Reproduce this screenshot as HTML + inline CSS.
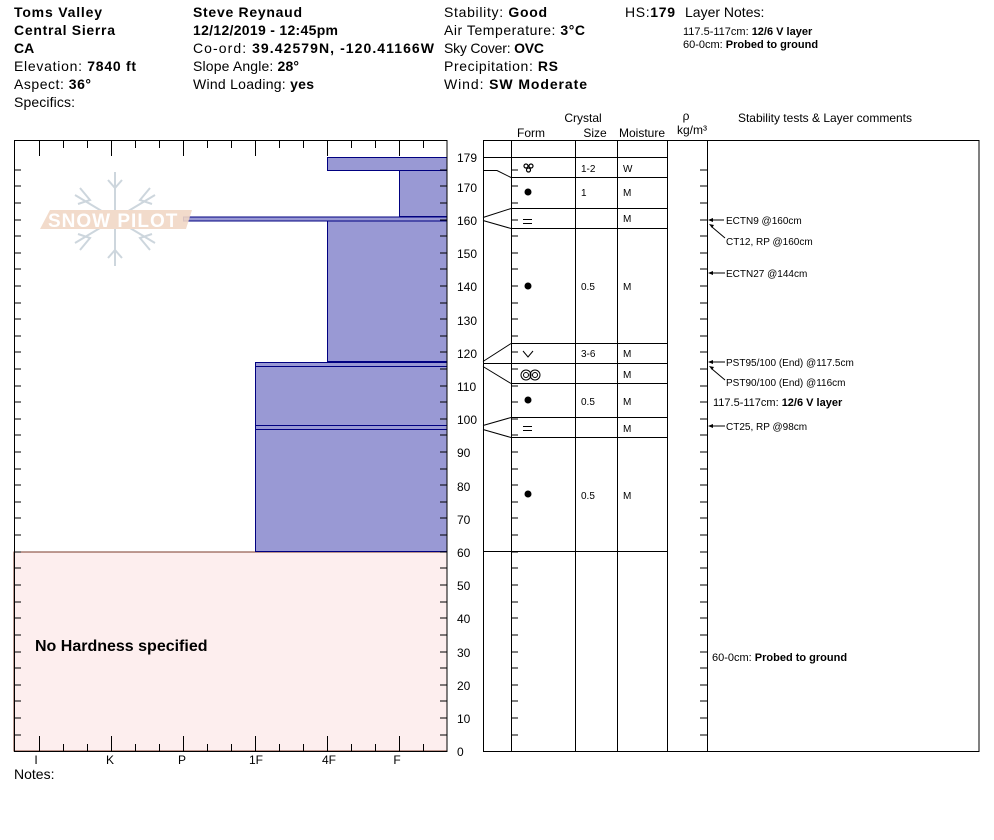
<!DOCTYPE html>
<html><head><meta charset="utf-8"><style>
body{margin:0;background:#fff;}
svg{display:block;font-family:"Liberation Sans",sans-serif;}
</style></head><body>
<svg width="994" height="840" viewBox="0 0 994 840" xmlns="http://www.w3.org/2000/svg">
<g font-size="14" fill="#000" lengthAdjust="spacing">
<text x="14" y="17" font-weight="bold" textLength="88">Toms Valley</text>
<text x="14" y="35" font-weight="bold" textLength="101">Central Sierra</text>
<text x="14" y="53" font-weight="bold">CA</text>
<text x="14" y="71" textLength="122">Elevation: <tspan font-weight="bold">7840 ft</tspan></text>
<text x="14" y="89" textLength="77">Aspect: <tspan font-weight="bold">36°</tspan></text>
<text x="14" y="107" textLength="61">Specifics:</text>
<text x="193" y="17" font-weight="bold" textLength="109">Steve Reynaud</text>
<text x="193" y="35" font-weight="bold" textLength="145">12/12/2019 - 12:45pm</text>
<text x="193" y="53" textLength="241">Co-ord: <tspan font-weight="bold">39.42579N, -120.41166W</tspan></text>
<text x="193" y="71" textLength="106">Slope Angle: <tspan font-weight="bold">28°</tspan></text>
<text x="193" y="89" textLength="121">Wind Loading: <tspan font-weight="bold">yes</tspan></text>
<text x="444" y="17" textLength="103">Stability: <tspan font-weight="bold">Good</tspan></text>
<text x="444" y="35" textLength="141">Air Temperature: <tspan font-weight="bold">3°C</tspan></text>
<text x="444" y="53" textLength="100">Sky Cover: <tspan font-weight="bold">OVC</tspan></text>
<text x="444" y="71" textLength="114">Precipitation: <tspan font-weight="bold">RS</tspan></text>
<text x="444" y="89" textLength="143">Wind:  <tspan font-weight="bold">SW Moderate</tspan></text>
<text x="625" y="17" textLength="50">HS:<tspan font-weight="bold">179</tspan></text>
<text x="685" y="17">Layer Notes:</text>
</g>
<g font-size="11">
<text x="683" y="35">117.5-117cm: <tspan font-weight="bold">12/6 V layer</tspan></text>
<text x="683" y="48">60-0cm: <tspan font-weight="bold">Probed to ground</tspan></text>
</g>
<g font-size="12">
<text x="583" y="122" text-anchor="middle">Crystal</text>
<text x="531" y="137" text-anchor="middle">Form</text>
<text x="595" y="137" text-anchor="middle">Size</text>
<text x="642" y="137" text-anchor="middle">Moisture</text>
<text x="686" y="120" text-anchor="middle">ρ</text>
<text x="692" y="134" text-anchor="middle">kg/m³</text>
<text x="825" y="122" text-anchor="middle">Stability tests &amp; Layer comments</text>
</g>
<rect x="14" y="552" width="433" height="199" fill="#fdeeee" stroke="#7a3a2a" stroke-width="1"/>
<text x="35" y="651" font-size="16" font-weight="bold">No Hardness specified</text>
<g fill="#9999d4" stroke="#000080" stroke-width="1">
<rect x="327.5" y="157.5" width="119.5" height="13"/>
<rect x="399.5" y="170.5" width="47.5" height="46"/>
<rect x="183.5" y="217" width="263.5" height="4"/>
<rect x="327.5" y="221" width="119.5" height="141"/>
<rect x="255.5" y="362.5" width="191.5" height="4"/>
<rect x="255.5" y="366.5" width="191.5" height="59"/>
<rect x="255.5" y="425.5" width="191.5" height="4"/>
<rect x="255.5" y="429.5" width="191.5" height="122"/>
</g>
<line x1="327" y1="362" x2="447" y2="362" stroke="#000080" stroke-width="2"/>
<g opacity="0.9">
<g stroke="#c8d2da" stroke-width="2" fill="none">
<line x1="115" y1="172" x2="115" y2="266"/>
<line x1="75" y1="195" x2="155" y2="243"/>
<line x1="75" y1="243" x2="155" y2="195"/>
<path d="M108 180 L115 188 L122 180 M108 258 L115 250 L122 258 M80 188 L90 200 L78 204 M150 188 L140 200 L152 204 M80 250 L90 238 L78 234 M150 250 L140 238 L152 234"/>
</g>
<polygon points="50,210 192,210 186,229 40,229" fill="#f1d8c6"/>
<text x="48" y="227" font-size="19" fill="#fff" font-weight="bold" letter-spacing="1">SNOW PILOT</text>
</g>
<rect x="14.5" y="140.5" width="432.5" height="611" fill="none" stroke="#000"/>
<g stroke="#000" stroke-width="1">
<path d="M39.5 141v15M111.5 141v15M183.5 141v15M255.5 141v15M327.5 141v15M399.5 141v15
M63.5 141v7M87.5 141v7M135.5 141v7M159.5 141v7M207.5 141v7M231.5 141v7M279.5 141v7M303.5 141v7M351.5 141v7M375.5 141v7M423.5 141v7
M39.5 751v-15M111.5 751v-15M183.5 751v-15M255.5 751v-15M327.5 751v-15M399.5 751v-15
M63.5 751v-7M87.5 751v-7M135.5 751v-7M159.5 751v-7M207.5 751v-7M231.5 751v-7M279.5 751v-7M303.5 751v-7M351.5 751v-7M375.5 751v-7M423.5 751v-7"/>
</g>
<g font-size="12" text-anchor="middle">
<text x="36" y="764">I</text><text x="110" y="764">K</text><text x="182" y="764">P</text>
<text x="256" y="764">1F</text><text x="329" y="764">4F</text><text x="397" y="764">F</text>
</g>
<text x="14" y="779" font-size="14">Notes:</text>
<g stroke="#000">
<path d="
M14 735h7M14 718h7M14 701h7M14 685h7M14 668h7M14 652h7M14 635h7M14 618h7M14 602h7M14 585h7M14 568h7M14 552h7M14 535h7M14 518h7M14 502h7M14 485h7M14 469h7M14 452h7M14 435h7M14 419h7M14 402h7M14 386h7M14 369h7M14 352h7M14 336h7M14 319h7M14 303h7M14 286h7M14 269h7M14 253h7M14 236h7M14 220h7M14 203h7M14 186h7M14 170h7
M447 735h-7M447 718h-7M447 701h-7M447 685h-7M447 668h-7M447 652h-7M447 635h-7M447 618h-7M447 602h-7M447 585h-7M447 568h-7M447 552h-7M447 535h-7M447 518h-7M447 502h-7M447 485h-7M447 469h-7M447 452h-7M447 435h-7M447 419h-7M447 402h-7M447 386h-7M447 369h-7M447 352h-7M447 336h-7M447 319h-7M447 303h-7M447 286h-7M447 269h-7M447 253h-7M447 236h-7M447 220h-7M447 203h-7M447 186h-7M447 170h-7
M511 735h7M511 718h7M511 701h7M511 685h7M511 668h7M511 652h7M511 635h7M511 618h7M511 602h7M511 585h7M511 568h7M511 552h7M511 535h7M511 518h7M511 502h7M511 485h7M511 469h7M511 452h7M511 435h7M511 419h7M511 402h7M511 386h7M511 369h7M511 352h7M511 336h7M511 319h7M511 303h7M511 286h7M511 269h7M511 253h7M511 236h7M511 220h7M511 203h7M511 186h7M511 170h7
M707 735h-7M707 718h-7M707 701h-7M707 685h-7M707 668h-7M707 652h-7M707 635h-7M707 618h-7M707 602h-7M707 585h-7M707 568h-7M707 552h-7M707 535h-7M707 518h-7M707 502h-7M707 485h-7M707 469h-7M707 452h-7M707 435h-7M707 419h-7M707 402h-7M707 386h-7M707 369h-7M707 352h-7M707 336h-7M707 319h-7M707 303h-7M707 286h-7M707 269h-7M707 253h-7M707 236h-7M707 220h-7M707 203h-7M707 186h-7M707 170h-7"/>
</g>
<g font-size="12">
<text x="457" y="756">0</text><text x="457" y="723">10</text><text x="457" y="690">20</text><text x="457" y="657">30</text><text x="457" y="623">40</text><text x="457" y="590">50</text><text x="457" y="557">60</text><text x="457" y="524">70</text><text x="457" y="491">80</text><text x="457" y="457">90</text><text x="457" y="424">100</text><text x="457" y="391">110</text><text x="457" y="358">120</text><text x="457" y="325">130</text><text x="457" y="291">140</text><text x="457" y="258">150</text><text x="457" y="225">160</text><text x="457" y="192">170</text><text x="457" y="162">179</text>
</g>
<rect x="483.5" y="140.5" width="495.5" height="611" fill="none" stroke="#000"/>
<g stroke="#000" fill="none">
<path d="M511.5 141v610M575.5 141v610M617.5 141v610M667.5 141v610M707.5 141v610"/>
<path d="M483 157.5h184M511 177.5h156M511 208.5h156M511 228.5h156M511 343.5h156M511 363.5h156M511 383.5h156M511 417.5h156M511 437.5h156M483 551.5h184"/>
<path d="M483 170.5h14l14 7M483 217.5l28-9M483 220.5l28 8M483 361.5l28-18M483 363.5h28M483 366.5l28 17M483 425.5l28-8M483 429.5l28 8"/>
</g>
<g font-size="10">
<text x="581" y="172">1-2</text><text x="623" y="172">W</text>
<text x="581" y="196">1</text><text x="623" y="196">M</text>
<text x="623" y="222">M</text>
<text x="581" y="290">0.5</text><text x="623" y="290">M</text>
<text x="581" y="357">3-6</text><text x="623" y="357">M</text>
<text x="623" y="378">M</text>
<text x="581" y="405">0.5</text><text x="623" y="405">M</text>
<text x="623" y="432">M</text>
<text x="581" y="499">0.5</text><text x="623" y="499">M</text>
</g>
<g font-size="11">
<g stroke="#000" fill="none" stroke-width="1.2"><circle cx="526" cy="166" r="2"/><circle cx="531" cy="166" r="2"/><circle cx="528.5" cy="170" r="2"/></g>
<circle cx="528" cy="192" r="3.5"/>
<path d="M523 219.5h9M523 223.5h9" stroke="#000"/>
<circle cx="528" cy="286" r="3.5"/>
<path d="M523 351l5 6 5-6" stroke="#000" fill="none"/>
<circle cx="526" cy="375" r="5" fill="none" stroke="#000"/><circle cx="535" cy="375" r="5" fill="none" stroke="#000"/>
<circle cx="526" cy="375" r="2.5" fill="none" stroke="#000"/><circle cx="535" cy="375" r="2.5" fill="none" stroke="#000"/>
<circle cx="528" cy="400" r="3.5"/>
<path d="M523 426.5h9M523 430.5h9" stroke="#000"/>
<circle cx="528" cy="494" r="3.5"/>
</g>
<g stroke="#000" fill="none">
<path d="M712 220h12M712 273h13M712 362h13M712 426h13M712 227l13 11M712 369l13 11"/>
</g>
<g fill="#000">
<path d="M708 220l5-2v4z M708 273l5-2v4z M708 362l5-2v4z M708 426l5-2v4z M709 224l5 1-2 3z M709 366l5 1-2 3z"/>
</g>
<g font-size="10">
<text x="726" y="224">ECTN9 @160cm</text>
<text x="726" y="245">CT12, RP @160cm</text>
<text x="726" y="277">ECTN27 @144cm</text>
<text x="726" y="366">PST95/100 (End) @117.5cm</text>
<text x="726" y="386">PST90/100 (End) @116cm</text>
<text x="713" y="406" font-size="11">117.5-117cm: <tspan font-weight="bold">12/6 V layer</tspan></text>
<text x="726" y="430">CT25, RP @98cm</text>
<text x="712" y="661" font-size="11">60-0cm: <tspan font-weight="bold">Probed to ground</tspan></text>
</g>
</svg>
</body></html>
